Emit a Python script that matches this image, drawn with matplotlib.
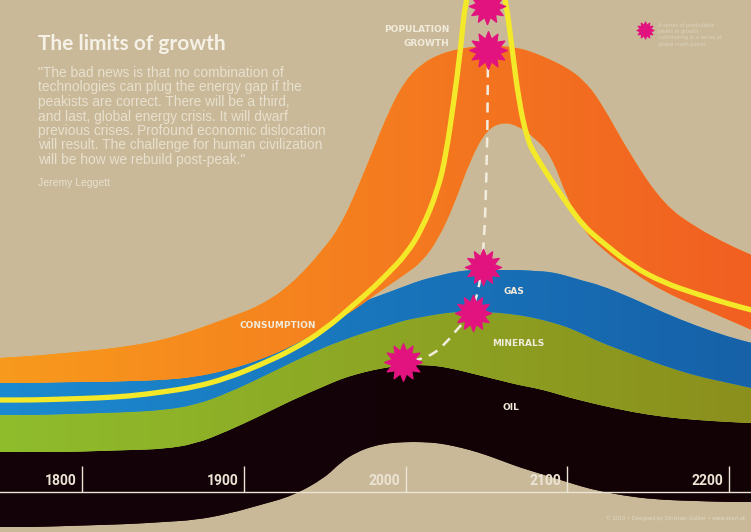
# The limits of growth - poster recreation
import matplotlib.pyplot as plt
import numpy as np
from matplotlib.path import Path
from matplotlib.patches import PathPatch
from matplotlib.colors import LinearSegmentedColormap

# band boundaries (y = pixels from the top of the image)
years = [1749, 1770, 1790, 1810, 1830, 1850, 1870, 1890, 1910, 1930, 1950, 1960, 1970,
         1980, 1990, 2000, 2010, 2020, 2030, 2040, 2050, 2060, 2070, 2080, 2090, 2100,
         2110, 2120, 2140, 2160, 2180, 2200, 2214]

oil_bottom = [527, 527, 526, 525, 524, 522, 520, 514, 505, 496, 478, 462, 452,
              446, 443, 442, 442, 443, 446, 450, 455, 461, 467, 472, 477, 482,
              487, 491, 497, 500, 501, 502, 502]
oil_top = [452, 452, 452, 451, 450, 449, 444, 431, 416, 400, 386, 379, 374,
           370, 367, 365, 365, 366, 369, 373, 377, 381, 385, 388, 392, 397,
           401, 405, 412, 417, 420, 422, 423]
minerals_top = [415, 415, 414, 413, 412, 410, 405, 393, 378, 362, 347, 341, 335,
                330, 325, 320, 317, 314, 312, 312, 312, 313, 315, 318, 322, 327,
                334, 342, 354, 366, 376, 383, 388]
gas_top = [383, 383, 382, 382, 381, 380, 377, 368, 352, 333, 318, 310, 304,
           298, 292, 286, 280, 276, 272, 270, 270, 270, 270, 271, 272, 276,
           281, 285, 298, 313, 326, 337, 343]
consumption_bottom = [383, 383, 382, 382, 381, 380, 377, 370, 360, 346, 328, 318, 308,
                      296, 285, 274, 262, 240, 205, 160, 130, 122, 126, 138, 155, 198,
                      230, 247, 272, 292, 306, 320, 330]
consumption_top = [358, 356, 353, 350, 346, 340, 330, 318, 306, 284, 248, 225, 190,
                   150, 110, 80, 64, 55, 50, 47, 46, 46, 48, 53, 60, 68,
                   80, 100, 158, 205, 228, 245, 255]

pop_years = [1749, 1770, 1790, 1810, 1830, 1850, 1870, 1890, 1910, 1930, 1950, 1970,
             1980, 1990, 2000, 2010, 2020, 2025, 2030, 2034, 2037, 2043, 2050, 2057,
             2062, 2066, 2070, 2075, 2080, 2090, 2100, 2110, 2120, 2140, 2160, 2180,
             2200, 2214]
pop_y = [400, 400, 399, 398, 396, 392, 387, 378, 365, 350, 330, 302,
         288, 272, 255, 230, 190, 155, 100, 50, 0, -35, -45, -35,
         0, 50, 100, 138, 155, 180, 204, 226, 240, 266, 283, 294,
         304, 310]

# peak markers and the dashed path linking them
peak_years = [2050.4, 2051, 2047.9, 2041.7, 1998.5]
peak_y = [6, 50, 267, 313, 362]
path_years = [2051, 2050.5, 2048, 2041.7, 2032.5, 2025.7, 2015.1, 1998]
path_y = [50, 160, 267, 313, 328, 342, 357, 363]

tick_years = [1800, 1900, 2000, 2100, 2200]

quote = ['"The bad news is that no combination of',
         'technologies can plug the energy gap if the',
         'peakists are correct. There will be a third,',
         'and last, global energy crisis. It will dwarf',
         'previous crises. Profound economic dislocation',
         'will result. The challenge for human civilization',
         'will be how we rebuild post-peak."']

bg = '#c9b998'
light = '#f1ebdc'


def star_marker(n=12, inner=0.62):
    ang = np.linspace(0, 2 * np.pi, 2 * n, endpoint=False) + np.pi / 2
    r = np.where(np.arange(2 * n) % 2 == 0, 1.0, inner)
    verts = np.column_stack([r * np.cos(ang), r * np.sin(ang)])
    verts = np.vstack([verts, verts[:1]])
    codes = [Path.MOVETO] + [Path.LINETO] * (2 * n - 1) + [Path.CLOSEPOLY]
    return Path(verts, codes)


def smooth(xs, ys):
    # quadratic curve through the midpoints, read points act as control points
    p = np.column_stack([xs, ys]).astype(float)
    mids = (p[:-1] + p[1:]) / 2
    verts = [p[0], mids[0]]
    codes = [Path.MOVETO, Path.LINETO]
    for i in range(1, len(p) - 1):
        verts += [p[i], mids[i]]
        codes += [Path.CURVE3, Path.CURVE3]
    verts.append(p[-1])
    codes.append(Path.LINETO)
    return verts, codes


def band(ax, top, bottom, c_left, c_right, z):
    vt, ct = smooth(years, top)
    vb, cb = smooth(years[::-1], bottom[::-1])
    cb[0] = Path.LINETO
    verts = vt + vb + [vt[0]]
    codes = ct + cb + [Path.CLOSEPOLY]
    patch = PathPatch(Path(verts, codes), facecolor=c_left, lw=0, zorder=z)
    ax.add_patch(patch)
    cmap = LinearSegmentedColormap.from_list('g', [c_left, c_right])
    grad = np.linspace(0, 1, 256).reshape(1, -1)
    im = ax.imshow(grad, cmap=cmap, aspect='auto', extent=[years[0], years[-1], 540, -60],
                   zorder=z, interpolation='bilinear')
    im.set_clip_path(patch)


fig = plt.figure(figsize=(7.51, 5.32), dpi=100)
fig.patch.set_facecolor(bg)
ax = fig.add_axes([0, 0, 1, 1])
ax.set_facecolor(bg)
ax.axis('off')

band(ax, oil_top, oil_bottom, '#140308', '#120206', 1)
band(ax, minerals_top, oil_top, '#8fbd2c', '#8b8f1c', 2)
band(ax, gas_top, minerals_top, '#1c8ad0', '#1661a8', 3)
band(ax, consumption_top, consumption_bottom, '#f89a1c', '#f15f22', 4)

vp, cp = smooth(pop_years, pop_y)
ax.add_patch(PathPatch(Path(vp, cp), fill=False, edgecolor='#f4e928', lw=3.8,
                       zorder=5, joinstyle='round'))

# time axis
ax.axhline(492, color='#ece5d6', lw=1, zorder=6)
ax.vlines(tick_years, 466, 492, color='#ece5d6', lw=1, zorder=6)
for yr in tick_years:
    ax.text(yr - 3.5, 481, str(yr), ha='right', va='center', fontsize=10,
            fontweight='bold', family='Roboto', color='#ece5d6', zorder=6)

vd, cd = smooth(path_years, path_y)
ax.add_patch(PathPatch(Path(vd, cd), fill=False, edgecolor='#f3ede0', lw=1.8,
                       linestyle=(0, (4, 3)), zorder=7))
star = star_marker()
sizes = [26, 27, 26, 26, 27]
for yx, yy, s in zip(peak_years, peak_y, sizes):
    ax.plot(yx, yy, marker=star, ms=s, color='#e2137f', mec='#e2137f', zorder=8, ls='none')

lab = dict(color=light, fontsize=6.5, fontweight='bold', zorder=9)
ax.text(1921.2, 325, 'CONSUMPTION', ha='center', va='center', **lab)
ax.text(2060.3, 292, 'GAS', ha='left', va='center', **lab)
ax.text(2069.5, 344, 'MINERALS', ha='center', va='center', **lab)
ax.text(2059.7, 408, 'OIL', ha='left', va='center', **lab)
ax.text(2026.9, 30, 'POPULATION', ha='right', va='center', **lab)
ax.text(2026.9, 43, 'GROWTH', ha='right', va='center', **lab)

ax.set_xlim(1749.3, 2213.6)
ax.set_ylim(532, 0)

# header text, in figure pixels
W, H = 751, 532
fig.text(38 / W, 1 - 44 / H, 'The limits of growth', fontsize=15, fontweight='bold',
         family='Lato', color='#f6f1e6', va='center')
for i, line in enumerate(quote):
    fig.text(38 / W, 1 - (73 + i * 14.5) / H, line, fontsize=9.9, family='Liberation Sans',
             color='#e8e0ce', va='center')
fig.text(38 / W, 1 - 183 / H, 'Jeremy Leggett', fontsize=7.5, family='Liberation Sans',
         color='#e8e0ce', va='center')

# small legend top right
ax.plot(2148.1, 30, marker=star, ms=12, color='#e2137f', ls='none', zorder=8)
legend_lines = ['A series of predictable', 'peaks in growth,',
                'culminating in a series of', 'global crash points']
for i, line in enumerate(legend_lines):
    fig.text(658 / W, 1 - (25 + i * 6.5) / H, line, fontsize=3.6, color='#ddd3bd', va='center')

fig.text(745 / W, 1 - 518 / H, '\u00a9 2010 \u2022 Designed by Christian Gulber \u2022 www.ekeri.at',
         fontsize=3.6, color='#e2d9c4', ha='right', va='center')

fig.savefig('out.png', dpi=100, facecolor=bg)
